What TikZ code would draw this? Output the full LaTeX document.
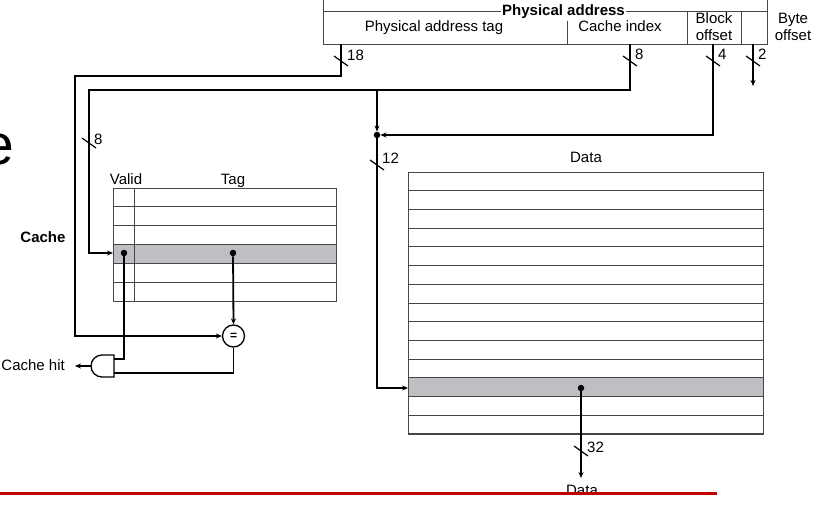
\documentclass[tikz,border=0pt]{standalone}
\usepackage{fontspec}
\setmainfont{Liberation Sans}
\usetikzlibrary{arrows.meta}
\definecolor{rowgray}{RGB}{190,191,194}
\definecolor{slidered}{RGB}{192,0,0}
\definecolor{gridc}{RGB}{70,70,70}
\tikzset{
  wire/.style={line width=1.8pt, black},
  arr/.style={wire, -{Stealth[length=6pt,width=5pt]}},
  gridline/.style={line width=0.9pt, draw=gridc},
  lbl/.style={font=\fontsize{15}{17}\selectfont, inner sep=0pt},
  blbl/.style={lbl, font=\fontsize{15}{17}\selectfont\bfseries},
  dotc/.style={circle, fill=black, inner sep=0pt, minimum size=6.5pt},
  eqc/.style={circle, draw, line width=1.3pt, fill=white, minimum size=22pt, inner sep=0pt, font=\fontsize{12}{12}\selectfont\bfseries},
  busmark/.pic={\draw[line width=1.2pt] (-7,-5) -- (7,5);}
}
\begin{document}
\begin{tikzpicture}[x=1pt,y=-1pt]
\useasboundingbox (0,0) rectangle (818,508);
% big cut-off title letter
\node[anchor=base east, inner sep=0pt, font=\fontsize{57}{60}\selectfont] (title) at (14.5,164) {e};

% ---- physical address box ----
\draw[gridline] (323,-5) -- (323,44) -- (767,44) -- (767,-5);
\draw[gridline] (323,11) -- (767,11);
\draw[gridline] (567,21) -- (567,44);
\draw[gridline] (687,11) -- (687,44);
\draw[gridline] (741,11) -- (741,44);
\node[blbl, fill=white, inner xsep=1pt, inner ysep=0pt, anchor=base] (pa) at (563.5,15.5) {Physical address};
\node[lbl, anchor=base] (patag) at (434,32) {Physical address tag};
\node[lbl, anchor=base] (cidx) at (620,32) {Cache index};
\node[lbl, anchor=base] (boff1) at (714,24) {Block};
\node[lbl, anchor=base] (boff2) at (714,41) {offset};
\node[lbl, anchor=base] (byoff1) at (793,24) {Byte};
\node[lbl, anchor=base] (byoff2) at (793,41) {offset};

\coordinate (b18) at (341,44);
\coordinate (b8) at (630,44);
\coordinate (b4) at (713,44);
\coordinate (b2) at (753,44);

% ---- cache table ----
\fill[rowgray] (113,244.5) rectangle (336,263.3);
\foreach \i in {0,...,6} \draw[gridline] (113,{188+\i*18.83}) -- (336,{188+\i*18.83});
\draw[gridline] (113,188) rectangle (336,301);
\draw[gridline] (134,188) -- (134,301);
\node[lbl, anchor=base] (valid) at (126,184.5) {Valid};
\node[lbl, anchor=base] (tag) at (233,184.5) {Tag};
\node[blbl, anchor=base] (cache) at (43,242) {Cache};
\coordinate (crow) at (113,253);

% ---- data table ----
\fill[rowgray] (408,377.8) rectangle (763,396.5);
\foreach \i in {0,...,14} \draw[gridline] (408,{172+\i*18.71}) -- (763,{172+\i*18.71});
\draw[gridline] (408,172) rectangle (763,434);
\node[lbl, anchor=base] (datah) at (586,162) {Data};
\coordinate (drow) at (408,388);

% ---- dots, comparator, gate ----
\node[dotc] (vdot) at (124,253) {};
\node[dotc] (tdot) at (233,253) {};
\node[dotc] (jdot) at (377,135) {};
\node[dotc] (ddot) at (581,388) {};
\node[eqc] (eq) at (233.5,336) {=};

\draw[line width=1.3pt] (114,355) -- (102,355) arc (270:90:11) -- (114,377) -- cycle;
\coordinate (andout) at (91,366);
\coordinate (andin1) at (114,359);
\coordinate (andin2) at (114,373);
\node[lbl, anchor=base east] (hit) at (65,370) {Cache hit};
\coordinate (hitend) at (75,366);

% ---- connectors ----
% tag bits (18)
\draw[arr] (b18) -- (341,76) -- (75,76) -- (75,336) -- (eq.west);
\pic at (341,61) {busmark};
\node[lbl, anchor=base west] (l18) at (347,61) {18};
% index bits (8)
\draw[arr] (b8) -- (630,90) -- (89,90) -- (89,253) -- (crow);
\draw[arr] (377,90) -- (jdot.north);
\pic at (630,61) {busmark};
\node[lbl, anchor=base west] (l8a) at (635,60) {8};
\pic at (89,143) {busmark};
\node[lbl, anchor=base west] (l8b) at (94,144) {8};
% block offset (4)
\draw[arr] (b4) -- (713,135) -- (jdot.east);
\pic at (713,61) {busmark};
\node[lbl, anchor=base west] (l4) at (718,60) {4};
% byte offset (2)
\draw[arr] (b2) -- (753,86);
\pic at (753,61) {busmark};
\node[lbl, anchor=base west] (l2) at (758,60) {2};
% combined index (12)
\draw[arr] (jdot) -- (377,388) -- (drow);
\pic at (377,165) {busmark};
\node[lbl, anchor=base west] (l12) at (382,163) {12};
% tag compare
\draw[arr] (tdot) -- (eq.north);
\draw[wire] (eq.south) -- (233.5,373) -- (andin2);
\draw[wire] (vdot) -- (124,359) -- (andin1);
\draw[arr] (andout) -- (hitend);
% data out
\draw[arr] (ddot) -- (581,478);
\pic at (581,451) {busmark};
\node[lbl, anchor=base west] (l32) at (587,452) {32};
\node[lbl, anchor=base] (dataout) at (582,495) {Data};

% slide rule
\draw[slidered, line width=3pt] (0,493) -- (717,493);
\end{tikzpicture}
\end{document}
